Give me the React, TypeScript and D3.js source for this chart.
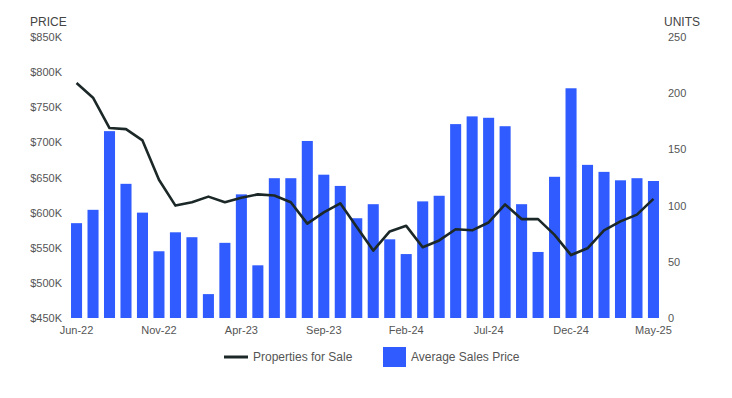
import React from "react";
import * as d3 from "d3";

const months = [
  "Jun-22","Jul-22","Aug-22","Sep-22","Oct-22","Nov-22","Dec-22","Jan-23","Feb-23","Mar-23","Apr-23","May-23",
  "Jun-23","Jul-23","Aug-23","Sep-23","Oct-23","Nov-23","Dec-23","Jan-24","Feb-24","Mar-24","Apr-24","May-24",
  "Jun-24","Jul-24","Aug-24","Sep-24","Oct-24","Nov-24","Dec-24","Jan-25","Feb-25","Mar-25","Apr-25","May-25",
];

// Average Sales Price, $K
const avgPrice = [
  585, 604, 716, 641, 600, 545, 572, 565, 484, 557, 626, 525,
  649, 649, 702, 654, 638, 592, 612, 562, 541, 616, 624, 726,
  737, 735, 723, 612, 544, 651, 777, 668, 658, 646, 649, 645,
];

// Properties for Sale, units
const forSale = [
  209, 196, 169, 168, 158, 123, 100, 103, 108, 103, 107, 110,
  109, 103, 84, 94, 102, 81, 60, 77, 82, 63, 69, 79,
  78, 85, 101, 88, 88, 74, 56, 62, 78, 86, 92, 106,
];

const priceTicks = [450, 500, 550, 600, 650, 700, 750, 800, 850];
const unitTicks = [0, 50, 100, 150, 200, 250];
const xTickLabels = ["Jun-22", "Nov-22", "Apr-23", "Sep-23", "Feb-24", "Jul-24", "Dec-24", "May-25"];

const W = 732;
const H = 398;
const top = 37;
const bottom = 318;
const left = 68.3;
const right = 661.7;
const font = "'Liberation Sans', Arial, sans-serif";
const barColor = "#2f5bff";
const lineColor = "#1c2828";

export default function App() {
  const x = d3.scaleBand<string>().domain(months).range([left, right]).paddingInner(0.33).paddingOuter(0.165);
  const yP = d3.scaleLinear().domain([450, 850]).range([bottom, top]);
  const yU = d3.scaleLinear().domain([0, 250]).range([bottom, top]);
  const cx = (m: string) => (x(m) ?? 0) + x.bandwidth() / 2;
  const line = d3
    .line<number>()
    .x((_, i) => cx(months[i]))
    .y((d) => yU(d));

  return (
    <svg width={W} height={H} style={{ position: "absolute", left: 0, top: 0, background: "#fff" }} fontFamily={font}>
      <text x={30} y={26} fontSize={12} fill="#444">PRICE</text>
      <text x={664} y={26} fontSize={12} fill="#444">UNITS</text>
      {priceTicks.map((t) => (
        <text key={t} x={62} y={yP(t) + 4} fontSize={11} fill="#555" textAnchor="end">
          {`$${t}K`}
        </text>
      ))}
      {unitTicks.map((t) => (
        <text key={t} x={668} y={yU(t) + 4} fontSize={11} fill="#555">
          {t}
        </text>
      ))}
      {months.map((m, i) => (
        <rect
          key={m}
          x={x(m)}
          y={yP(avgPrice[i])}
          width={x.bandwidth()}
          height={bottom - yP(avgPrice[i])}
          fill={barColor}
        />
      ))}
      <path d={line(forSale) ?? ""} fill="none" stroke={lineColor} strokeWidth={2.6} strokeLinejoin="round" />
      {xTickLabels.map((m) => (
        <text key={m} x={cx(m)} y={334} fontSize={11} fill="#555" textAnchor="middle">
          {m}
        </text>
      ))}
      <line x1={224} x2={248} y1={357} y2={357} stroke={lineColor} strokeWidth={3} />
      <text x={253} y={361} fontSize={12} fill="#555">Properties for Sale</text>
      <rect x={383} y={347} width={23} height={20} fill={barColor} />
      <text x={411} y={361} fontSize={12} fill="#555">Average Sales Price</text>
    </svg>
  );
}
